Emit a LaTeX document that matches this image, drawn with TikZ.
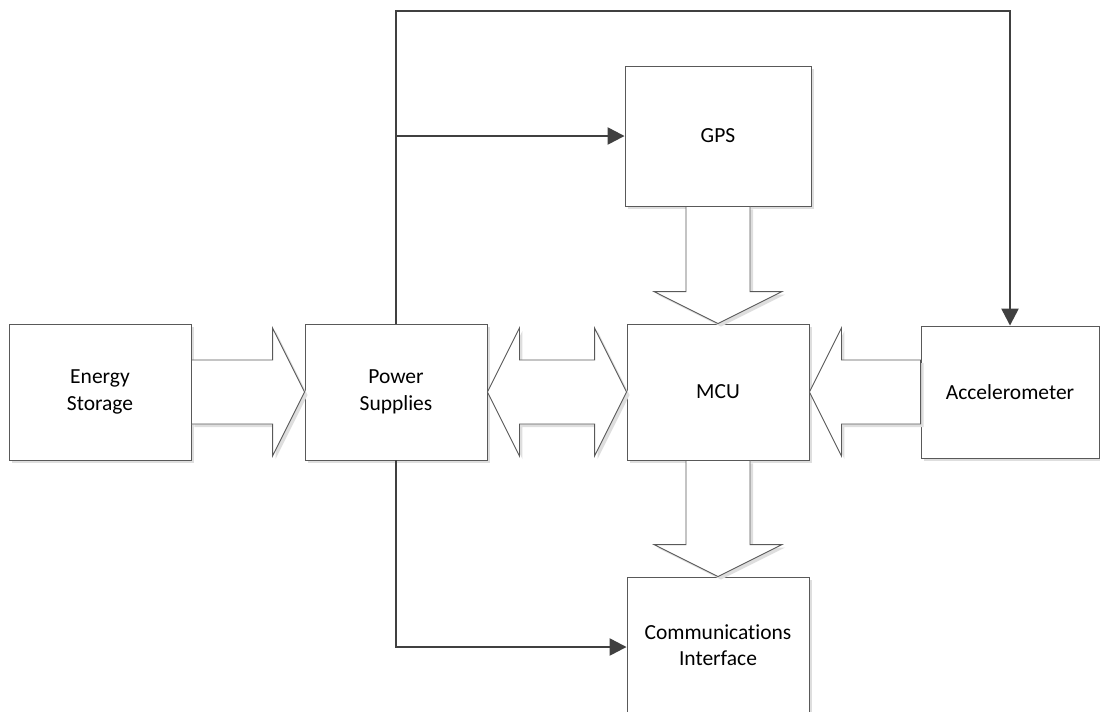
\documentclass[tikz,border=0pt]{standalone}
\usepackage{fontspec}
\setmainfont{Carlito}[Ligatures=CommonOff]
\usetikzlibrary{calc,arrows.meta,shadows}
\begin{document}
\begin{tikzpicture}[x=1pt,y=-1pt,
  boxshadow/.style={drop shadow={shadow xshift=3pt,shadow yshift=-3pt,fill=black!13,opacity=1}},
  blockbox/.style={draw=black!65,line width=0.9pt,fill=white,minimum width=182pt,minimum height=136pt,
    align=center,font=\fontsize{21.5}{26.5}\selectfont,inner sep=0pt,boxshadow},
  blockarrow/.style={draw=black!65,line width=0.9pt,fill=white,boxshadow},
  conn/.style={draw=black!75,line width=2.4pt,-{Triangle[length=17pt,width=17pt]}}]
\useasboundingbox (0,0) rectangle (1100,713);
\clip (0,0) rectangle (1100,711.8);
% boxes
\node[blockbox] (es) at (100,392) {Energy\\Storage};
\node[blockbox] (ps) at (396,392) {Power\\Supplies};
\node[blockbox] (mcu) at (718,392) {MCU};
\node[blockbox,minimum height=132pt,minimum width=178pt] (acc) at (1010,392) {Accelerometer};
\node[blockbox,minimum width=186pt,minimum height=140pt] (gps) at (718,136) {GPS};
\node[blockbox] (comm) at (718,645) {Communications\\Interface};
% block arrows
\path[blockarrow] ($(es.east)+(0,-32)$) -- ($(ps.west)+(-32,-32)$) -- ($(ps.west)+(-32,-64)$) -- (ps.west)
  -- ($(ps.west)+(-32,64)$) -- ($(ps.west)+(-32,32)$) -- ($(es.east)+(0,32)$) -- cycle;
\path[blockarrow] (ps.east) -- ($(ps.east)+(32,-64)$) -- ($(ps.east)+(32,-32)$) -- ($(mcu.west)+(-32,-32)$)
  -- ($(mcu.west)+(-32,-64)$) -- (mcu.west) -- ($(mcu.west)+(-32,64)$) -- ($(mcu.west)+(-32,32)$)
  -- ($(ps.east)+(32,32)$) -- ($(ps.east)+(32,64)$) -- cycle;
\path[blockarrow] (mcu.east) -- ($(mcu.east)+(32,-64)$) -- ($(mcu.east)+(32,-32)$) -- ($(acc.west)+(0,-32)$)
  -- ($(acc.west)+(0,32)$) -- ($(mcu.east)+(32,32)$) -- ($(mcu.east)+(32,64)$) -- cycle;
\path[blockarrow] ($(gps.south)+(-32,0)$) -- ($(mcu.north)+(-32,-32)$) -- ($(mcu.north)+(-64,-32)$) -- (mcu.north)
  -- ($(mcu.north)+(64,-32)$) -- ($(mcu.north)+(32,-32)$) -- ($(gps.south)+(32,0)$) -- cycle;
\path[blockarrow] ($(mcu.south)+(-32,0)$) -- ($(comm.north)+(-32,-32)$) -- ($(comm.north)+(-64,-32)$) -- (comm.north)
  -- ($(comm.north)+(64,-32)$) -- ($(comm.north)+(32,-32)$) -- ($(mcu.south)+(32,0)$) -- cycle;
% line connectors
\coordinate (top) at (0,11);
\draw[conn] (ps.north) -- (ps.north |- top) -| (acc.north);
\draw[conn] (ps.north |- gps.west) -- (gps.west);
\draw[conn] (ps.south) |- ($(comm.west)+(0,2)$);
\end{tikzpicture}
\end{document}
